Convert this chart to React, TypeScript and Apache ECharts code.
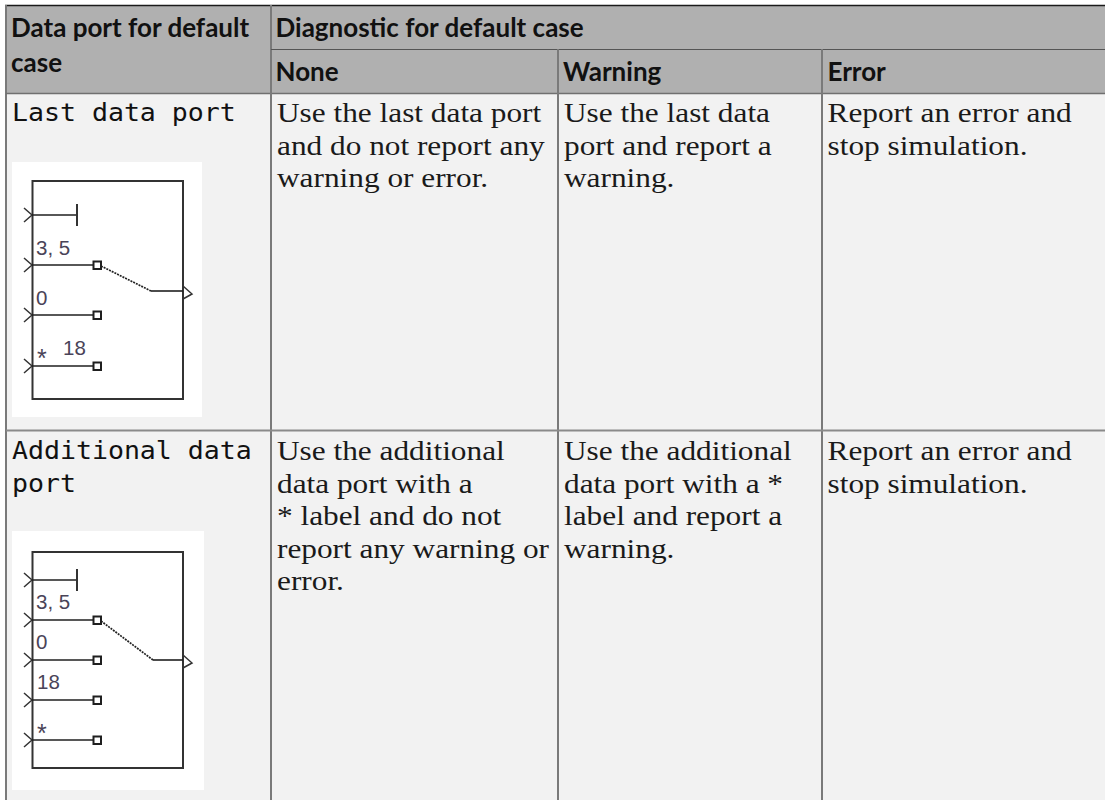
import React, { useEffect, useRef } from "react";
import * as echarts from "echarts";

const headerTop = ["Data port for default", "case"];
const headerGroup = "Diagnostic for default case";
const headerColumns = ["None", "Warning", "Error"];
const rowLabels = [["Last data port"], ["Additional data", "port"]];
const rowNone = [
  ["Use the last data port", "and do not report any", "warning or error."],
  ["Use the additional", "data port with a", "* label and do not", "report any warning or", "error."],
];
const rowWarning = [
  ["Use the last data", "port and report a", "warning."],
  ["Use the additional", "data port with a *", "label and report a", "warning."],
];
const rowError = [
  ["Report an error and", "stop simulation."],
  ["Report an error and", "stop simulation."],
];
const diagramOneLabels = ["3, 5", "0", "*", "18"];
const diagramTwoLabels = ["3, 5", "0", "18", "*"];

const SERIF = "'Liberation Serif', serif";
const SANS = "Lato, sans-serif";
const MONO = "'DejaVu Sans Mono', monospace";
const LINE = "#1f1f1f";

function rect(x: number, y: number, w: number, h: number, fill: string, stroke?: string, lineWidth = 0): any {
  return { type: "rect", shape: { x, y, width: w, height: h }, style: { fill, stroke, lineWidth } };
}
function line(x1: number, y1: number, x2: number, y2: number, stroke: string, lineWidth: number, dash?: number[]): any {
  return { type: "line", shape: { x1, y1, x2, y2 }, style: { stroke, lineWidth, lineDash: dash } };
}
function text(t: string, x: number, y: number, font: string, size: number, weight = "normal", fill = "#1a1a1a", scaleX = 1): any {
  return {
    type: "text",
    x,
    y,
    scaleX,
    style: { text: t, x: 0, y: 0, fill, font: `${weight} ${size}px ${font}`, textVerticalAlign: "middle", verticalAlign: "middle", align: "left" },
  };
}

function diagram(
  bg: number[], box: number[], inputs: number[], stubIndex: number, stubTick: number[],
  diag: number[], labels: string[], labelPos: number[][]
): any[] {
  const out: any[] = [rect(bg[0], bg[1], bg[2], bg[3], "#ffffff")];
  out.push(rect(box[0], box[1], box[2], box[3], "none", "#333333", 2));
  inputs.forEach((y, i) => {
    out.push({ type: "polyline", shape: { points: [[24, y - 7], [32, y], [24, y + 7]] }, style: { stroke: "#333", lineWidth: 1.5, fill: "none" } });
    if (i === stubIndex) {
      out.push(line(32, y, 77, y, LINE, 1.6));
      out.push(line(77, stubTick[0], 77, stubTick[1], "#333", 2));
    } else {
      out.push(line(32, y, 93, y, LINE, 1.6));
      out.push(rect(93.5, y - 3.5, 7.5, 7.5, "#ffffff", LINE, 2));
    }
  });
  const [x1, y1, x2, y2] = diag;
  out.push(line(x1, y1, x2, y2, "#222", 1.7, [2, 1]));
  out.push(line(x2, y2, 183, y2, LINE, 1.6));
  out.push({ type: "polyline", shape: { points: [[183, y2 - 5], [192, y2 + 3], [183, y2 + 8]] }, style: { stroke: "#333", lineWidth: 1.5, fill: "none" } });
  labels.forEach((l, i) => {
    out.push(text(l, labelPos[i][0], labelPos[i][1], "'Liberation Sans', sans-serif", l === "*" ? 25 : 20.5, "normal", "#4a4458"));
  });
  return out;
}

function buildGraphics(): any[] {
  const g: any[] = [];
  // backgrounds
  g.push(rect(6, 5, 1099, 88, "#b0b0b0"));
  g.push(rect(6, 93, 1099, 707, "#f2f2f2"));
  // diagrams
  g.push(...diagram([12, 162, 190, 255], [32.5, 181, 150.5, 218], [215, 265, 315, 366], 0, [204, 226],
    [101, 266, 151, 291], diagramOneLabels, [[36, 247], [36, 297], [37, 358], [63, 347]]));
  g.push(...diagram([12, 531, 192, 259], [32.5, 552, 150.5, 216], [580, 620, 660, 700, 740], 0, [569, 591],
    [101, 621, 153, 660], diagramTwoLabels, [[36, 601], [36, 641], [37, 681], [37, 733]]));
  // rules
  g.push(line(5, 5.5, 1105, 5.5, "#1a1a1a", 1.5));
  g.push(line(6, 5, 6, 800, "#7a7a7a", 2));
  g.push(line(6, 93.5, 1105, 93.5, "#707070", 1.5));
  g.push(line(271, 5, 271, 800, "#7a7a7a", 2));
  g.push(line(271, 49.5, 1105, 49.5, "#555555", 1));
  g.push(line(558, 49, 558, 800, "#7a7a7a", 2));
  g.push(line(822, 49, 822, 800, "#7a7a7a", 2));
  g.push(line(6, 430.5, 1105, 430.5, "#8a8a8a", 2));

  // header text
  headerTop.forEach((t, i) => g.push(text(t, 11, 27 + i * 35, SANS, 26, "bold", "#111")));
  g.push(text(headerGroup, 275.5, 27, SANS, 26, "bold", "#111"));
  const headX = [275.5, 563, 827.5];
  headerColumns.forEach((t, i) => g.push(text(t, headX[i], 71, SANS, 26, "bold", "#111")));

  // body
  const colX = [277, 564, 827.5];
  const rowY = [113, 451];
  rowLabels.forEach((lines, r) =>
    lines.forEach((t, i) => g.push(text(t, 12, rowY[r] + i * 33, MONO, 24, "normal", "#111", 1.107)))
  );
  [rowNone, rowWarning, rowError].forEach((col, c) =>
    col.forEach((lines, r) =>
      lines.forEach((t, i) => g.push(text(t, colX[c], rowY[r] + i * 32.5, SERIF, 27, "normal", "#1a1a1a", 1.16)))
    )
  );
  return g;
}

export default function App() {
  const ref = useRef<HTMLDivElement>(null);
  useEffect(() => {
    const chart = echarts.init(ref.current!, undefined, { renderer: "svg" });
    chart.setOption({ animation: false, backgroundColor: "#ffffff", graphic: { elements: buildGraphics() } });
    return () => chart.dispose();
  }, []);
  return <div ref={ref} style={{ position: "fixed", left: 0, top: 0, width: 1105, height: 800 }} />;
}
